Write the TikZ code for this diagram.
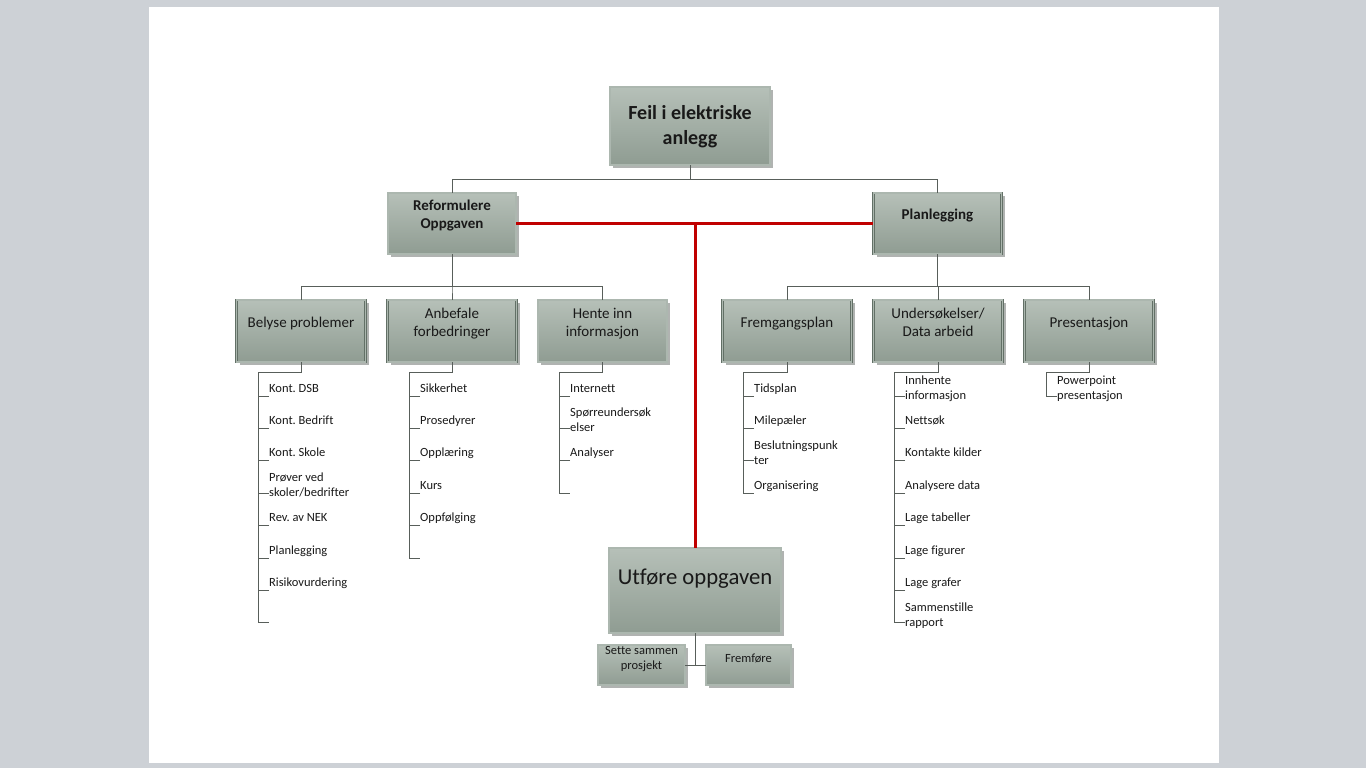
\documentclass[tikz,border=0pt]{standalone}
\usepackage{fontspec}
\setmainfont{Carlito}[Ligatures=NoCommon]
\usetikzlibrary{shadows}
\definecolor{slidebg}{RGB}{205,209,214}
\definecolor{boxtop}{RGB}{182,192,184}
\definecolor{boxbot}{RGB}{143,156,146}
\definecolor{boxline}{RGB}{98,112,102}
\definecolor{boxgap}{RGB}{172,183,175}
\definecolor{boxshadow}{RGB}{176,179,177}
\definecolor{linkgray}{RGB}{88,94,90}
\definecolor{darkred}{RGB}{192,0,0}
\frenchspacing

\begin{document}
\begin{tikzpicture}[x=1pt,y=-1pt,
  box/.style={draw=boxline,line width=0.8pt,double=boxgap,double distance=1.2pt,
    top color=boxtop,bottom color=boxbot,align=center,inner sep=0pt,text=black!90,
    drop shadow={shadow xshift=3pt,shadow yshift=-3pt,fill=boxshadow,opacity=1}},
  topbox/.style={box,minimum width=160pt,minimum height=78pt,
    font=\bfseries\fontsize{20}{25}\selectfont,text height=39pt,text depth=2pt},
  lvl1/.style={box,minimum width=128pt,minimum height=61pt,
    font=\bfseries\fontsize{15}{18}\selectfont,text height=#1,text depth=20pt},
  lvl1/.default=11pt,
  lvl2/.style={box,minimum width=129pt,minimum height=62pt,
    font=\fontsize{15}{18}\selectfont,text height=#1,text depth=19pt},
  lvl2/.default=11pt,
  bigbox/.style={box,minimum width=172pt,minimum height=85pt,
    font=\fontsize{22.7}{27}\selectfont,text height=16pt,text depth=29pt},
  smallbox/.style={box,minimum height=40pt,
    font=\fontsize{12.5}{15}\selectfont,text height=#1,text depth=15pt},
  smallbox/.default=9pt,
  item/.style={anchor=west,inner sep=0pt,align=left,text=black!90,
    font=\fontsize{12.5}{15}\selectfont,text height=#1,text depth=17pt},
  item/.default=9pt,
  link/.style={draw=linkgray,line width=0.9pt},
  redlink/.style={draw=darkred,line width=3pt}]

\useasboundingbox[fill=slidebg] (0,0) rectangle (1366,768);
\fill[white] (149,7) rectangle (1219,763);

\node[topbox] (feil) at (690,126) {Feil i elektriske\\anlegg};
\node[lvl1=29pt] (reform) at (452,223.5) {Reformulere\\Oppgaven};
\node[lvl1] (plan) at (937.5,223.5) {Planlegging};
\node[lvl2] (belyse) at (301,331) {Belyse problemer};
\node[lvl2=29pt] (anbef) at (452,331) {Anbefale\\forbedringer};
\node[lvl2=29pt] (hente) at (602.5,331) {Hente inn\\informasjon};
\node[lvl2] (fremg) at (787,331) {Fremgangsplan};
\node[lvl2=29pt] (unders) at (938,331) {Undersøkelser/\\Data arbeid};
\node[lvl2] (present) at (1089,331) {Presentasjon};
\node[bigbox] (utfore) at (695,590.5) {Utføre oppgaven};
\node[smallbox=24pt,minimum width=87pt] (sette) at (641.5,665) {Sette sammen\\prosjekt};
\node[smallbox,minimum width=85pt] (fremf) at (748.5,665) {Fremføre};

\draw[link] (feil.south) -- ++(0,14) -| (reform.north);
\draw[link] (feil.south) -- ++(0,14) -| (plan.north);
\foreach \b in {belyse,anbef,hente}
  \draw[link] (reform.south) -- ++(0,32.5) -| (\b.north);
\foreach \b in {fremg,unders,present}
  \draw[link] (plan.south) -- ++(0,32.5) -| (\b.north);

\draw[redlink] (reform.east) -- (plan.west);
\draw[redlink] (utfore.north) -- (utfore.north |- reform.east);

\draw[link] (utfore.south) -- (utfore.south |- sette.east);
\draw[link] (sette.east) -- (fremf.west);

% Belyse problemer
\foreach \t/\h [count=\i] in {Kont. DSB/9pt,Kont. Bedrift/9pt,Kont. Skole/9pt,
    {Prøver ved\\skoler/bedrifter}/24pt,Rev. av NEK/9pt,Planlegging/9pt,Risikovurdering/9pt}
  \node[item=\h] (bel-\i) at (269,363.6+32.4*\i) {\t};
\coordinate (bel-8) at (269,622.8);
\draw[link] (belyse.south) -- ++(0,10.5) -| ([xshift=-11pt]bel-8) -- (bel-8);
\foreach \i in {1,...,7} \draw[link] (bel-\i.west) -- ++(-11,0);

% Anbefale forbedringer
\foreach \t [count=\i] in {Sikkerhet,Prosedyrer,Opplæring,Kurs,Oppfølging}
  \node[item] (anb-\i) at (420,363.6+32.4*\i) {\t};
\coordinate (anb-6) at (420,558);
\draw[link] (anbef.south) -- ++(0,10.5) -| ([xshift=-11pt]anb-6) -- (anb-6);
\foreach \i in {1,...,5} \draw[link] (anb-\i.west) -- ++(-11,0);

% Hente inn informasjon
\foreach \t/\h [count=\i] in {Internett/9pt,{Spørreundersøk\\elser}/24pt,Analyser/9pt}
  \node[item=\h] (hen-\i) at (570,363.6+32.4*\i) {\t};
\coordinate (hen-4) at (570,493.2);
\draw[link] (hente.south) -- ++(0,10.5) -| ([xshift=-11pt]hen-4) -- (hen-4);
\foreach \i in {1,...,3} \draw[link] (hen-\i.west) -- ++(-11,0);

% Fremgangsplan
\foreach \t/\h [count=\i] in {Tidsplan/9pt,Milepæler/9pt,{Beslutningspunk\\ter}/24pt,Organisering/9pt}
  \node[item=\h] (fre-\i) at (754,363.6+32.4*\i) {\t};
\draw[link] (fremg.south) -- ++(0,10.5) -| ([xshift=-11pt]fre-4.west) -- (fre-4.west);
\foreach \i in {1,...,3} \draw[link] (fre-\i.west) -- ++(-11,0);

% Undersøkelser/Data arbeid
\foreach \t/\h [count=\i] in {{Innhente\\informasjon}/24pt,Nettsøk/9pt,Kontakte kilder/9pt,
    Analysere data/9pt,Lage tabeller/9pt,Lage figurer/9pt,Lage grafer/9pt,{Sammenstille\\rapport}/24pt}
  \node[item=\h] (und-\i) at (905,363.6+32.4*\i) {\t};
\draw[link] (unders.south) -- ++(0,10.5) -| ([xshift=-11pt]und-8.west) -- (und-8.west);
\foreach \i in {1,...,7} \draw[link] (und-\i.west) -- ++(-11,0);

% Presentasjon
\node[item=24pt] (pre-1) at (1057,396) {Powerpoint\\presentasjon};
\draw[link] (present.south) -- ++(0,10.5) -| ([xshift=-11pt]pre-1.west) -- (pre-1.west);
\end{tikzpicture}
\end{document}
